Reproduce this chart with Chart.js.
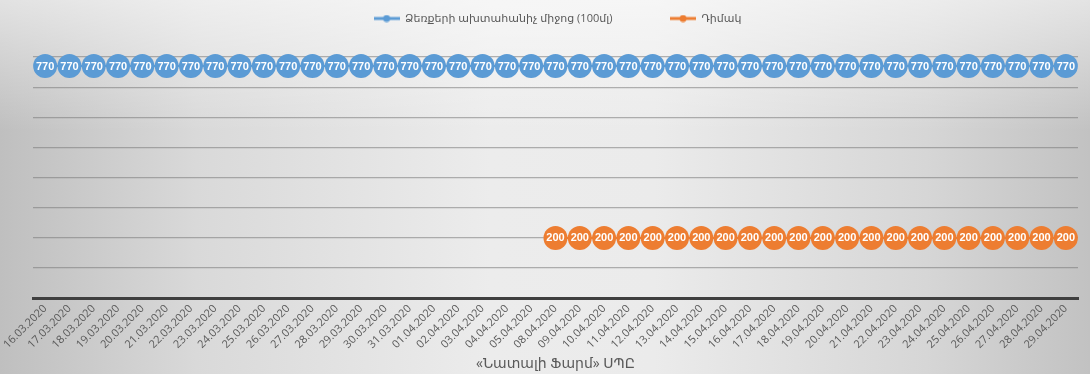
<!DOCTYPE html>
<html lang="hy">
<head>
    <meta charset="UTF-8">
    <title>Natali Farm</title>
    <script src="https://cdn.jsdelivr.net/npm/chart.js@4.4.1/dist/chart.umd.min.js"></script>
    <style>
        html, body{
            margin: 0;
            padding: 0;
        }
        body{
            width: 1090px;
            height: 374px;
            overflow: hidden;
            background:
                linear-gradient(to bottom, rgba(255,255,255,0.55) 0%, rgba(255,255,255,0) 35%),
                linear-gradient(to right, #bfbfbf 0%, #d9d9d9 18%, #ececec 45%, #ebebeb 60%, #d6d6d6 85%, #c2c2c2 100%);
        }
        .wrap{
            position: relative;
            width: 1090px;
            height: 374px;
        }
        #miCanvas{
            display: block;
        }
    </style>
</head>
<body>
    <div class="wrap">
        <canvas id="miCanvas" width="1090" height="374"></canvas>
    </div>
    <script>
        // dates on the x axis (06.04 and 07.04 are missing in the source)
        const dates = [
            "16.03.2020","17.03.2020","18.03.2020","19.03.2020","20.03.2020","21.03.2020",
            "22.03.2020","23.03.2020","24.03.2020","25.03.2020","26.03.2020","27.03.2020",
            "28.03.2020","29.03.2020","30.03.2020","31.03.2020",
            "01.04.2020","02.04.2020","03.04.2020","04.04.2020","05.04.2020",
            "08.04.2020","09.04.2020","10.04.2020","11.04.2020","12.04.2020","13.04.2020",
            "14.04.2020","15.04.2020","16.04.2020","17.04.2020","18.04.2020","19.04.2020",
            "20.04.2020","21.04.2020","22.04.2020","23.04.2020","24.04.2020","25.04.2020",
            "26.04.2020","27.04.2020","28.04.2020","29.04.2020"
        ];
        const sanitizer = [
            770,770,770,770,770,770,770,770,770,770,770,770,770,770,770,770,
            770,770,770,770,770,
            770,770,770,770,770,770,770,770,770,770,770,770,770,770,770,770,770,770,770,770,770,770
        ];
        const masks = [
            null,null,null,null,null,null,null,null,null,null,null,null,null,null,null,null,
            null,null,null,null,null,
            200,200,200,200,200,200,200,200,200,200,200,200,200,200,200,200,200,200,200,200,200,200
        ];
        const seriesNames = ["Ձեռքերի ախտահանիչ միջոց (100մլ)", "Դիմակ"];
        const xTitle = "«Նատալի Ֆարմ» ՍՊԸ";

        const blue = "#5b9bd5";
        const orange = "#ed7d31";
        const textGray = "#595959";

        // little line + dot icon for the legend
        const legendIcon = (color) => {
            const c = document.createElement("canvas");
            c.width = 26;
            c.height = 8;
            const g = c.getContext("2d");
            g.strokeStyle = color;
            g.lineWidth = 3;
            g.beginPath();
            g.moveTo(0, 4);
            g.lineTo(26, 4);
            g.stroke();
            g.fillStyle = color;
            g.beginPath();
            g.arc(13, 4, 3.5, 0, Math.PI * 2);
            g.fill();
            return c;
        };

        // white value labels inside the markers
        const valueLabels = {
            id: "valueLabels",
            afterDatasetsDraw(chart){
                const ctx = chart.ctx;
                ctx.save();
                ctx.font = "bold 11px 'Liberation Sans', Arial, sans-serif";
                ctx.fillStyle = "#ffffff";
                ctx.textAlign = "center";
                ctx.textBaseline = "middle";
                chart.data.datasets.forEach((ds, i) => {
                    const meta = chart.getDatasetMeta(i);
                    meta.data.forEach((pt, j) => {
                        if (ds.data[j] == null) return;
                        ctx.fillText(String(ds.data[j]), pt.x, pt.y + 0.5);
                    });
                });
                ctx.restore();
            }
        };

        // push the plot area down a bit below the legend
        const legendGap = {
            id: "legendGap",
            beforeInit(chart){
                const fitOrig = chart.legend.fit;
                chart.legend.fit = function(){
                    fitOrig.bind(chart.legend)();
                    this.height += 23;
                };
            }
        };

        Chart.defaults.font.family = "'Open Sans', 'DejaVu Sans', sans-serif";
        Chart.defaults.color = textGray;

        const ctx = document.getElementById("miCanvas").getContext("2d");
        window.miCanva = new Chart(ctx, {
            type: "line",
            data: {
                labels: dates,
                datasets: [
                    {
                        label: seriesNames[0],
                        data: sanitizer,
                        borderColor: blue,
                        backgroundColor: blue,
                        borderWidth: 2,
                        pointRadius: 12,
                        pointHoverRadius: 12,
                        pointBorderWidth: 0,
                        pointBackgroundColor: blue,
                        pointStyle: "circle",
                        clip: false
                    },
                    {
                        label: seriesNames[1],
                        data: masks,
                        borderColor: orange,
                        backgroundColor: orange,
                        borderWidth: 2,
                        pointRadius: 12,
                        pointHoverRadius: 12,
                        pointBorderWidth: 0,
                        pointBackgroundColor: orange,
                        pointStyle: "circle",
                        clip: false
                    }
                ]
            },
            options: {
                responsive: false,
                animation: false,
                devicePixelRatio: 1,
                layout: {
                    padding: {left: 33, right: 8, top: 4, bottom: 2}
                },
                plugins: {
                    tooltip: {enabled: false},
                    legend: {
                        position: "top",
                        labels: {
                            usePointStyle: true,
                            pointStyleWidth: 26,
                            boxHeight: 8,
                            padding: 9,
                            font: {size: 11},
                            color: textGray,
                            generateLabels(chart){
                                return chart.data.datasets.map((ds, i) => ({
                                    text: ds.label + (i === 0 ? "                 " : ""),
                                    fillStyle: ds.borderColor,
                                    strokeStyle: ds.borderColor,
                                    lineWidth: 0,
                                    pointStyle: legendIcon(ds.borderColor),
                                    hidden: false,
                                    datasetIndex: i,
                                    fontColor: textGray
                                }));
                            }
                        }
                    }
                },
                scales: {
                    x: {
                        offset: true,
                        grid: {display: true, color: "rgba(0,0,0,0)", drawTicks: false},
                        border: {display: true, color: "#3f3f3f", width: 3},
                        ticks: {
                            autoSkip: false,
                            minRotation: 45,
                            maxRotation: 45,
                            padding: 4,
                            font: {size: 11},
                            color: textGray
                        },
                        title: {
                            display: true,
                            text: xTitle,
                            font: {size: 14},
                            color: textGray,
                            padding: {top: 0, bottom: 0}
                        }
                    },
                    y: {
                        min: 0,
                        max: 800,
                        ticks: {display: false, stepSize: 100},
                        grid: {color: "rgba(120,120,120,0.55)", lineWidth: 1.2, drawTicks: false},
                        border: {display: false}
                    }
                }
            },
            plugins: [valueLabels, legendGap]
        });
    </script>
</body>
</html>
